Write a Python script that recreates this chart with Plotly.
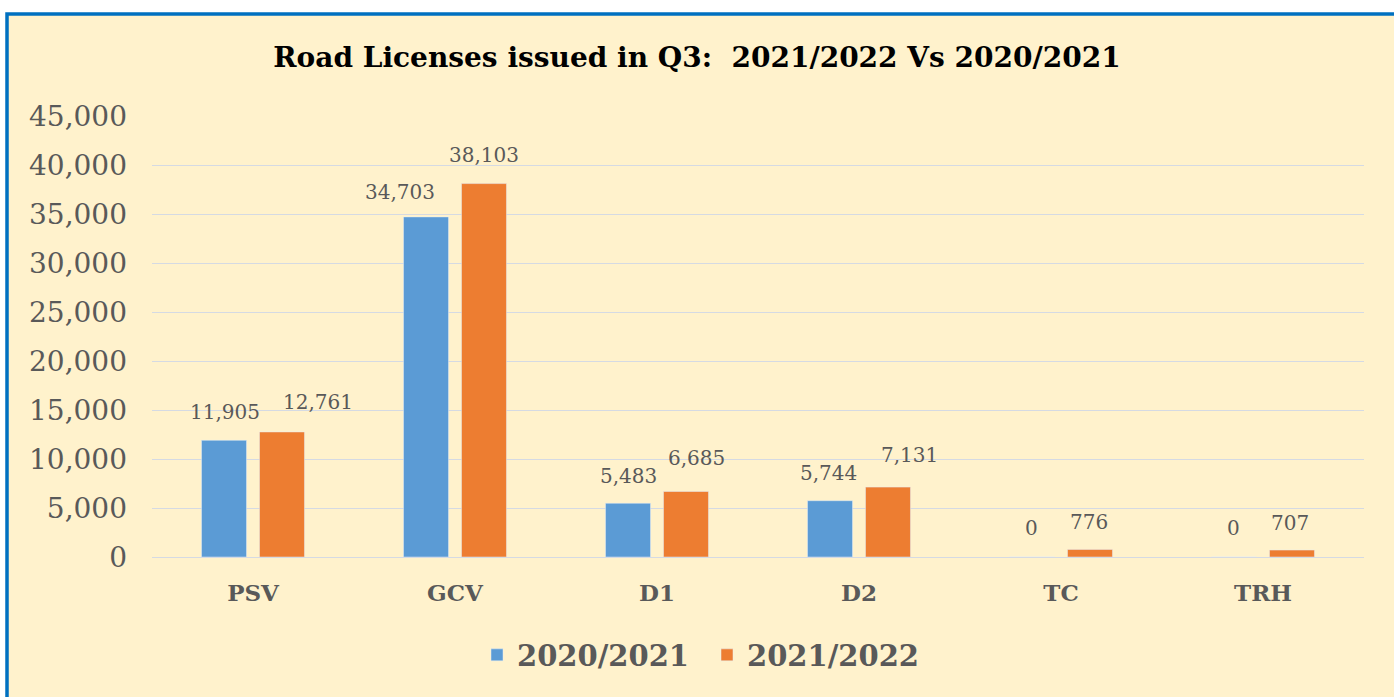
import plotly.graph_objects as go

categories = ["PSV", "GCV", "D1", "D2", "TC", "TRH"]
series_2020 = [11905, 34703, 5483, 5744, 0, 0]
series_2021 = [12761, 38103, 6685, 7131, 776, 707]
tick_vals = [0, 5000, 10000, 15000, 20000, 25000, 30000, 35000, 40000, 45000]
tick_text = [f"{v:,}" for v in tick_vals]

# label nudges (pixels), mimicking the hand-placed labels of the original
label_dx_2020 = [-28, -55, -29, -31, -30, -30]
label_dx_2021 = [65, 29, 39, 50, 28, 27]
label_dy_2020 = [28, 25, 27, 28, 29, 29]
label_dy_2021 = [30, 29, 33, 32, 27, 27]

SERIF = "DejaVu Serif"
GRAY = "#595959"

fig = go.Figure()
fig.add_trace(go.Bar(name="<b>2020/2021</b>", x=categories, y=series_2020,
                     marker=dict(color="#5B9BD5")))
fig.add_trace(go.Bar(name="<b>2021/2022</b>", x=categories, y=series_2021,
                     marker=dict(color="#ED7D31")))

annotations = []
for vals, dxs, dys in ((series_2020, label_dx_2020, label_dy_2020),
                       (series_2021, label_dx_2021, label_dy_2021)):
    for c, v, dx, dy in zip(categories, vals, dxs, dys):
        annotations.append(dict(x=c, y=v, xref="x", yref="y", text=f"{v:,}",
                                showarrow=False, xshift=dx, yshift=dy,
                                yanchor="middle", xanchor="center",
                                font=dict(family=SERIF, size=20, color=GRAY)))

L, R, T, B = 152, 30, 116, 140
W, H = 1394, 697
plot_w = W - L - R
plot_h = H - T - B

fig.update_layout(
    width=W, height=H,
    paper_bgcolor="white", plot_bgcolor="rgba(0,0,0,0)",
    margin=dict(l=L, r=R, t=T, b=B),
    barmode="group", bargap=0.426, bargroupgap=0.224,
    title=dict(text="<b>Road Licenses issued in Q3:  2021/2022 Vs 2020/2021</b>",
               x=0.5, xanchor="center", y=1 - 57 / H, yanchor="middle",
               font=dict(family=SERIF, size=28, color="black")),
    legend=dict(orientation="h", x=(707 - L) / plot_w, xanchor="center",
                y=-(655 - (H - B)) / plot_h, yanchor="middle",
                bgcolor="rgba(0,0,0,0)",
                entrywidth=185, entrywidthmode="pixels",
                font=dict(family=SERIF, size=29, color=GRAY),
                traceorder="normal"),
    annotations=annotations,
    shapes=[dict(type="rect", xref="paper", yref="paper",
                 x0=(7 - L) / plot_w, x1=(1410 - L) / plot_w,
                 y0=(-20 - B) / plot_h, y1=(H - B - 14) / plot_h,
                 layer="below", line=dict(width=3.5, color="#0070C0"),
                 fillcolor="#FFF2CC")],
)

fig.update_xaxes(showgrid=False, showline=False, ticks="",
                 tickfont=dict(family=SERIF, size=23, color=GRAY),
                 ticklabelstandoff=20,
                 tickvals=categories,
                 ticktext=[f"<b>{c}</b>" for c in categories])
fig.update_yaxes(range=[0, 45000], tickvals=tick_vals, ticktext=tick_text,
                 showgrid=True, gridcolor="#D5DAE3", gridwidth=1,
                 zeroline=True, zerolinecolor="#D5DAE3", zerolinewidth=1,
                 showline=False, ticks="",
                 tickfont=dict(family=SERIF, size=28, color=GRAY),
                 ticklabelstandoff=24)

fig.write_html("out.html", config={"displayModeBar": False},
               post_script="document.body.style.margin='0';document.body.style.overflow='hidden';")
